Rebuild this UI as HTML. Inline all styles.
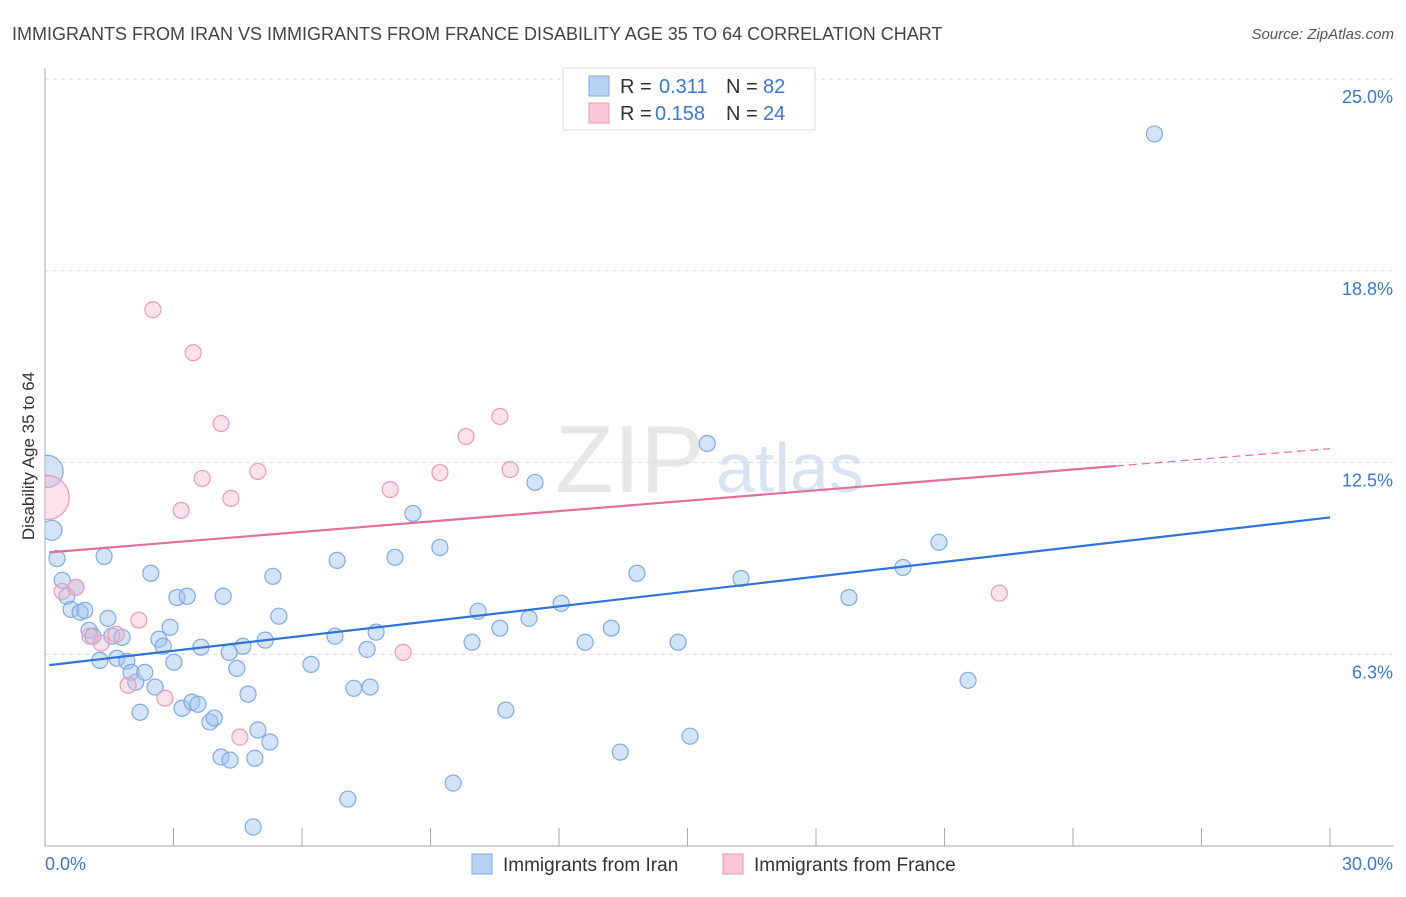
<!DOCTYPE html>
<html><head><meta charset="utf-8"><style>
body{margin:0;background:#fff;font-family:"Liberation Sans",sans-serif}
svg text{font-family:"Liberation Sans",sans-serif}
</style></head><body>
<svg id="chart" width="1406" height="892" viewBox="0 0 1406 892" xmlns="http://www.w3.org/2000/svg">
<text x="12" y="40" font-size="18" fill="#444">IMMIGRANTS FROM IRAN VS IMMIGRANTS FROM FRANCE DISABILITY AGE 35 TO 64 CORRELATION CHART</text>
<text x="1394" y="39" font-size="15" fill="#555" text-anchor="end" font-style="italic">Source: ZipAtlas.com</text>
<text x="555" y="492" font-size="96" fill="#ddd" font-family="Liberation Serif" opacity="0.7">ZIP</text>
<text x="716" y="492" font-size="70" fill="#c9d9ef" opacity="0.7">atlas</text>
<g id="grid"></g>
<g id="axes"></g>
<g id="plot"></g>
<text transform="translate(34,456) rotate(-90)" font-size="17" fill="#333" text-anchor="middle">Disability Age 35 to 64</text>
<g>
<rect x="563" y="68" width="252" height="62" fill="#fff" stroke="#ddd"/>
<rect x="589" y="76" width="20" height="20" fill="#b8d2f4" stroke="#7eaae6"/>
<text x="620" y="93" font-size="20" fill="#333">R = </text><text x="659" y="93" font-size="20" fill="#3a78d4">0.311</text>
<text x="726" y="93" font-size="20" fill="#333">N = </text><text x="763" y="93" font-size="20" fill="#3a78d4">82</text>
<rect x="589" y="103" width="20" height="20" fill="#f9c7d6" stroke="#ec9ab4"/>
<text x="620" y="120" font-size="20" fill="#333">R = </text><text x="655" y="120" font-size="20" fill="#3a78d4">0.158</text>
<text x="726" y="120" font-size="20" fill="#333">N = </text><text x="763" y="120" font-size="20" fill="#3a78d4">24</text>
</g>
<g>
<rect x="472" y="854" width="20" height="20" fill="#b8d2f4" stroke="#7eaae6"/>
<text x="503" y="871" font-size="19" fill="#333">Immigrants from Iran</text>
<rect x="723" y="854" width="20" height="20" fill="#f9c7d6" stroke="#ec9ab4"/>
<text x="754" y="871" font-size="19" fill="#333">Immigrants from France</text>
</g>
</svg>
<script>
const xTicks=[0,3,6,9,12,15,18,21,24,27,30];
const yGrid=[6.25,12.5,18.75,25];
const yTickLabels=["6.3%","12.5%","18.8%","25.0%"];
const iranX=[0.05,0.16,0.28,0.40,0.51,0.61,0.72,0.82,0.93,1.03,1.12,1.28,1.38,1.47,1.56,1.68,1.80,1.91,2.01,2.12,2.22,2.33,2.47,2.57,2.66,2.76,2.92,3.01,3.08,3.20,3.32,3.43,3.57,3.64,3.85,3.95,4.11,4.16,4.32,4.30,4.48,4.62,4.74,4.90,4.97,5.14,5.25,5.32,5.46,4.86,6.21,6.77,6.82,7.07,7.21,7.52,7.59,7.73,8.17,8.59,9.22,9.53,9.97,10.11,10.62,10.76,11.30,11.44,12.05,12.61,13.22,13.43,13.82,14.78,15.06,15.46,16.25,18.77,20.03,20.87,21.55,25.90];
const iranY=[12.21,10.29,9.37,8.66,8.14,7.71,8.43,7.62,7.68,7.03,6.84,6.05,9.44,7.42,6.84,6.12,6.80,6.02,5.66,5.34,4.36,5.66,8.89,5.18,6.74,6.51,7.13,5.99,8.10,4.49,8.14,4.69,4.62,6.48,4.04,4.17,2.90,8.14,2.80,6.31,5.79,6.51,4.95,2.86,3.78,6.71,3.39,8.79,7.49,0.62,5.92,6.84,9.31,1.53,5.14,6.41,5.18,6.97,9.41,10.84,9.73,2.05,6.64,7.65,7.10,4.43,7.42,11.85,7.91,6.64,7.10,3.06,8.89,6.64,3.58,13.12,8.72,8.10,9.08,9.90,5.40,23.21];
const iranSize=[16,10,8,8,8,8,8,8,8,8,8,8,8,8,8,8,8,8,8,8,8,8,8,8,8,8,8,8,8,8,8,8,8,8,8,8,8,8,8,8,8,8,8,8,8,8,8,8,8,8,8,8,8,8,8,8,8,8,8,8,8,8,8,8,8,8,8,8,8,8,8,8,8,8,8,8,8,8,8,8,8,8];
const franceX=[0.05,0.40,0.72,1.05,1.31,1.66,1.94,2.19,2.52,2.80,3.18,3.46,3.67,4.11,4.34,4.55,4.97,8.06,8.36,9.22,9.83,10.62,10.86,22.28];
const franceY=[11.36,8.30,8.43,6.84,6.61,6.90,5.24,7.36,17.48,4.82,10.94,16.08,11.98,13.77,11.33,3.55,12.21,11.62,6.31,12.17,13.35,14.00,12.27,8.24];
const franceSize=[22,8,8,8,8,8,8,8,8,8,8,8,8,8,8,8,8,8,8,8,8,8,8,8];
const iranTrend=[5.88,10.71];
const franceTrend=[9.56,12.95];
const franceSolidEnd=25;
const NS="http://www.w3.org/2000/svg";
const X0=45,X1=1330,YB=846,YT=79;
function sx(v){return X0+(v/30)*(X1-X0);}
function sy(v){return YB-(v/25)*(YB-YT);}
function mk(tag,attrs,parent){const e=document.createElementNS(NS,tag);for(const k in attrs)e.setAttribute(k,attrs[k]);parent.appendChild(e);return e;}
const grid=document.getElementById('grid'),axes=document.getElementById('axes'),plot=document.getElementById('plot');
yGrid.forEach((v,i)=>{
 const l=mk('line',{x1:X0,x2:1394,y1:sy(v),y2:sy(v),stroke:'#ddd','stroke-dasharray':'4,4'},grid);
 
 
 const t=mk('text',{x:1393,y:sy(v)+24,'font-size':18,fill:'#3a78d4','text-anchor':'end'},axes);
 t.textContent=yTickLabels[i];
 
 
});
const ax=mk('line',{x1:X0,x2:X0,y1:68,y2:YB,stroke:'#aaa'},axes);


const bx=mk('line',{x1:X0,x2:1394,y1:YB,y2:YB,stroke:'#aaa'},axes);


xTicks.forEach(v=>{
 const t=mk('line',{x1:sx(v),x2:sx(v),y1:828,y2:YB,stroke:'#aaa'},axes);
 
 
});
const xl0=mk('text',{x:45,y:870,'font-size':18,fill:'#3a78d4'},axes);xl0.textContent=xTicks[0].toFixed(1)+'%';


const xl1=mk('text',{x:1393,y:870,'font-size':18,fill:'#3a78d4','text-anchor':'end'},axes);xl1.textContent=xTicks[xTicks.length-1].toFixed(1)+'%';


const cp=mk('clipPath',{id:'cp'},mk('defs',{},plot));mk('rect',{x:X0,y:60,width:1360,height:790},cp);
const pg=mk('g',{'clip-path':'url(#cp)'},plot);
iranX.forEach((x,i)=>{
 const c=mk('circle',{cx:sx(x),cy:sy(iranY[i]),r:iranSize[i],fill:'rgba(160,196,240,0.45)',stroke:'#7eaae6','stroke-width':1.2},pg);
 
 
});
franceX.forEach((x,i)=>{
 const c=mk('circle',{cx:sx(x),cy:sy(franceY[i]),r:franceSize[i],fill:'rgba(246,180,200,0.4)',stroke:'#ec9ab4','stroke-width':1.2},pg);
 
 
});
function ty(t,x){return t[0]+(t[1]-t[0])*x/30;}
const l1=mk('line',{x1:sx(0.1),y1:sy(ty(iranTrend,0.1)),x2:sx(30),y2:sy(ty(iranTrend,30)),stroke:'#2f74d6','stroke-width':2.2},plot);


const l2=mk('line',{x1:sx(0.1),y1:sy(ty(franceTrend,0.1)),x2:sx(franceSolidEnd),y2:sy(ty(franceTrend,franceSolidEnd)),stroke:'#e0709a','stroke-width':2.2},plot);


const l3=mk('line',{x1:sx(franceSolidEnd),y1:sy(ty(franceTrend,franceSolidEnd)),x2:sx(30),y2:sy(ty(franceTrend,30)),stroke:'#e0709a','stroke-width':1.2,'stroke-dasharray':'8,5'},plot);


</script>
</body></html>
